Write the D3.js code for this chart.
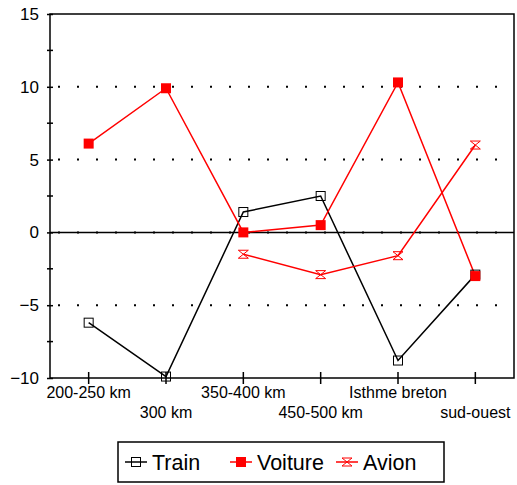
<!DOCTYPE html>
<html>
<head>
<meta charset="utf-8">
<script src="https://cdn.jsdelivr.net/npm/d3@7"></script>
<style>
  body { margin: 0; background: #fff; }
  text { font-family: "Liberation Sans", Arial, sans-serif; }
</style>
</head>
<body>
<svg width="517" height="485"></svg>
<script>
const categories = ["200-250 km", "300 km", "350-400 km", "450-500 km", "Isthme breton", "sud-ouest"];
const train   = [-6.2, -9.9, 1.4, 2.5, -8.8, -2.9];
const voiture = [6.1, 9.9, 0.0, 0.5, 10.3, -3.0];
const avion   = [null, null, -1.5, -2.9, -1.6, 6.0];
const yTicks = [-10, -5, 0, 5, 10, 15];
const yMinorTicks = [-7.5, -2.5, 2.5, 7.5, 12.5];
const seriesNames = ["Train", "Voiture", "Avion"];

const svg = d3.select("svg");
const plot = { left: 50, right: 514, top: 14, bottom: 378 };

const x = d3.scaleBand().domain(categories).range([plot.left, plot.right]);
const cx = d => x(d) + x.bandwidth() / 2;
const y = d3.scaleLinear().domain([-10, 15]).range([plot.bottom, plot.top]);

// dotted gridlines
svg.append("g")
  .selectAll("line")
  .data(yTicks.filter(t => t > -10 && t < 15))
  .enter().append("line")
  .attr("x1", plot.left).attr("x2", plot.right)
  .attr("y1", d => y(d)).attr("y2", d => y(d))
  .attr("stroke", "#000")
  .attr("stroke-width", 2)
  .attr("stroke-dasharray", "2,17")
  .attr("stroke-dashoffset", -8);

// zero line
svg.append("line")
  .attr("x1", plot.left).attr("x2", plot.right)
  .attr("y1", y(0)).attr("y2", y(0))
  .attr("stroke", "#000").attr("stroke-width", 1.5);

// frame
svg.append("rect")
  .attr("x", plot.left).attr("y", plot.top)
  .attr("width", plot.right - plot.left).attr("height", plot.bottom - plot.top)
  .attr("fill", "none").attr("stroke", "#000").attr("stroke-width", 1.5);

// y axis
const yAxis = svg.append("g")
  .attr("transform", `translate(${plot.left},0)`)
  .call(d3.axisLeft(y).tickValues(yTicks).tickSize(3).tickPadding(8));
yAxis.select(".domain").remove();
yAxis.selectAll(".tick line").attr("x2", 3).attr("x1", -3).attr("stroke-width", 1.5);
yAxis.selectAll("text").attr("font-size", 17).attr("fill", "#000")
  .attr("font-family", "Liberation Sans, Arial, sans-serif");

svg.append("g")
  .selectAll("line")
  .data(yMinorTicks)
  .enter().append("line")
  .attr("x1", plot.left - 3).attr("x2", plot.left + 3)
  .attr("y1", d => y(d)).attr("y2", d => y(d))
  .attr("stroke", "#000").attr("stroke-width", 1.5);

// x axis (staggered labels)
const xAxis = svg.append("g")
  .attr("transform", `translate(0,${plot.bottom})`)
  .call(d3.axisBottom(x).tickSize(6).tickPadding(3));
xAxis.select(".domain").remove();
xAxis.selectAll(".tick line").attr("y1", -6).attr("y2", 6).attr("stroke-width", 1.5);
xAxis.selectAll("text")
  .attr("font-size", 16).attr("fill", "#000")
  .attr("font-family", "Liberation Sans, Arial, sans-serif")
  .attr("dy", (d, i) => i % 2 === 0 ? "0.71em" : "1.95em");

// markers
function marker(g, type, color) {
  if (type === "Train") {
    g.append("rect").attr("x", -4.5).attr("y", -4.5).attr("width", 9).attr("height", 9)
      .attr("fill", "none").attr("stroke", "#000").attr("stroke-width", 1);
  } else if (type === "Voiture") {
    g.append("rect").attr("x", -5).attr("y", -5).attr("width", 10).attr("height", 10)
      .attr("fill", color);
  } else {
    g.append("path").attr("d", "M-5,-4L5,-4L-5,4L5,4Z")
      .attr("fill", "none").attr("stroke", color).attr("stroke-width", 1);
  }
}

const series = [
  { name: "Train", values: train, color: "#000" },
  { name: "Voiture", values: voiture, color: "#ff0000" },
  { name: "Avion", values: avion, color: "#ff0000" }
];

const line = d3.line()
  .defined(d => d.v !== null)
  .x(d => cx(d.c))
  .y(d => y(d.v));

series.forEach(s => {
  const pts = categories.map((c, i) => ({ c: c, v: s.values[i] }));
  svg.append("path")
    .datum(pts)
    .attr("d", line)
    .attr("fill", "none")
    .attr("stroke", s.color)
    .attr("stroke-width", 1.5);
});

series.forEach(s => {
  const pts = categories.map((c, i) => ({ c: c, v: s.values[i] })).filter(d => d.v !== null);
  svg.append("g")
    .selectAll("g")
    .data(pts)
    .enter().append("g")
    .attr("transform", d => `translate(${cx(d.c)},${y(d.v)})`)
    .each(function () { marker(d3.select(this), s.name, s.color); });
});

// legend
const legend = svg.append("g");
legend.append("rect")
  .attr("x", 118).attr("y", 442).attr("width", 326).attr("height", 40)
  .attr("fill", "#fff").attr("stroke", "#000").attr("stroke-width", 1.5);

const legendX = [125, 230, 336];
series.forEach((s, i) => {
  const g = legend.append("g").attr("transform", `translate(${legendX[i]},462)`);
  g.append("line").attr("x1", 0).attr("x2", 22).attr("y1", 0).attr("y2", 0)
    .attr("stroke", s.color).attr("stroke-width", 1.5);
  const m = g.append("g").attr("transform", "translate(11,0)");
  marker(m, s.name, s.color);
  g.append("text")
    .attr("x", 27).attr("y", 0).attr("dy", "0.36em")
    .attr("font-size", 21.5).attr("fill", "#000")
    .text(seriesNames[i]);
});
</script>
</body>
</html>
